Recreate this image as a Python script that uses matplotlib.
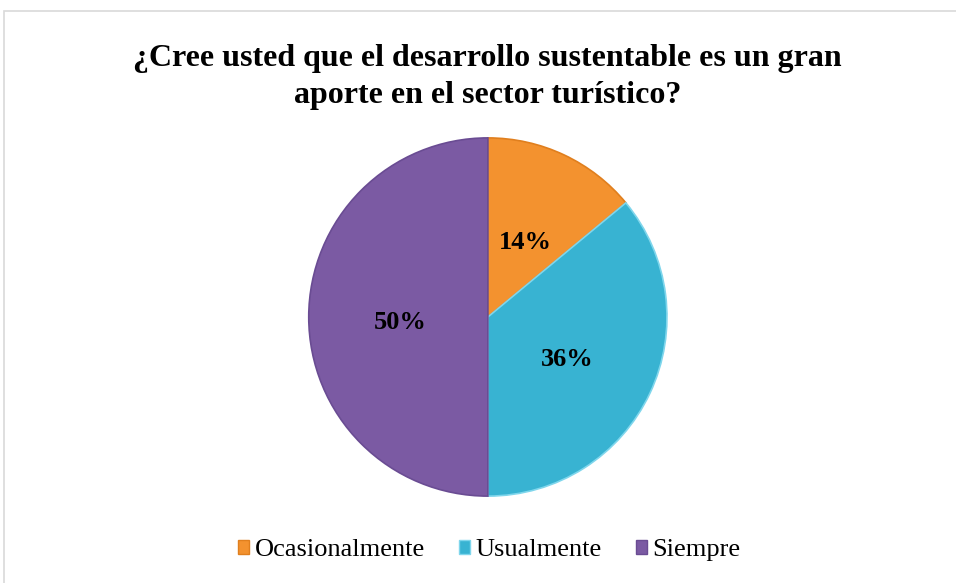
import matplotlib.pyplot as plt
from matplotlib.patches import Rectangle

# Datos del gráfico
categorias = ['Ocasionalmente', 'Usualmente', 'Siempre']
porcentajes = [14, 36, 50]
colores = ['#F3922F', '#38B3D2', '#7B5AA3']
bordes = ['#E07F1E', '#7FD6EC', '#6A4C93']

plt.rcParams['font.family'] = ['Liberation Serif', 'DejaVu Serif']

fig = plt.figure(figsize=(9.56, 5.83), dpi=100)

# marco del área del gráfico
fig.patches.append(Rectangle((4 / 956, -0.01), 1.0, 1 - 11 / 583 + 0.01,
                             transform=fig.transFigure, fill=False,
                             edgecolor='#D9D9D9', linewidth=1.2))

fig.text(0.51, 0.868,
         '¿Cree usted que el desarrollo sustentable es un gran\naporte en el sector turístico?',
         ha='center', va='center', fontsize=23, fontweight='bold',
         linespacing=1.38)

ax = fig.add_axes([0.322, 0.1475, 0.3766, 0.6175])
wedges, textos, autos = ax.pie(porcentajes, colors=colores, startangle=90,
                               counterclock=False, autopct='%d%%', pctdistance=0.49,
                               wedgeprops=dict(linewidth=1.2),
                               textprops=dict(fontsize=19, fontweight='bold', color='black'))
for w, b in zip(wedges, bordes):
    w.set_edgecolor(b)
# bajar un poco las etiquetas
for t in autos:
    x, y = t.get_position()
    t.set_position((x, y - 0.03))
ax.set_xlim(-1.005, 1.005)
ax.set_ylim(-1.005, 1.005)
ax.set_aspect('equal')

handles = [Rectangle((0, 0), 1, 1, facecolor=c, edgecolor=b) for c, b in zip(colores, bordes)]
fig.legend(handles, categorias, loc='center', bbox_to_anchor=(0.512, 0.056),
           ncol=3, frameon=False, fontsize=19, handlelength=0.4, handleheight=0.4,
           handletextpad=0.22, columnspacing=1.3)

fig.savefig('out.png', dpi=100)
